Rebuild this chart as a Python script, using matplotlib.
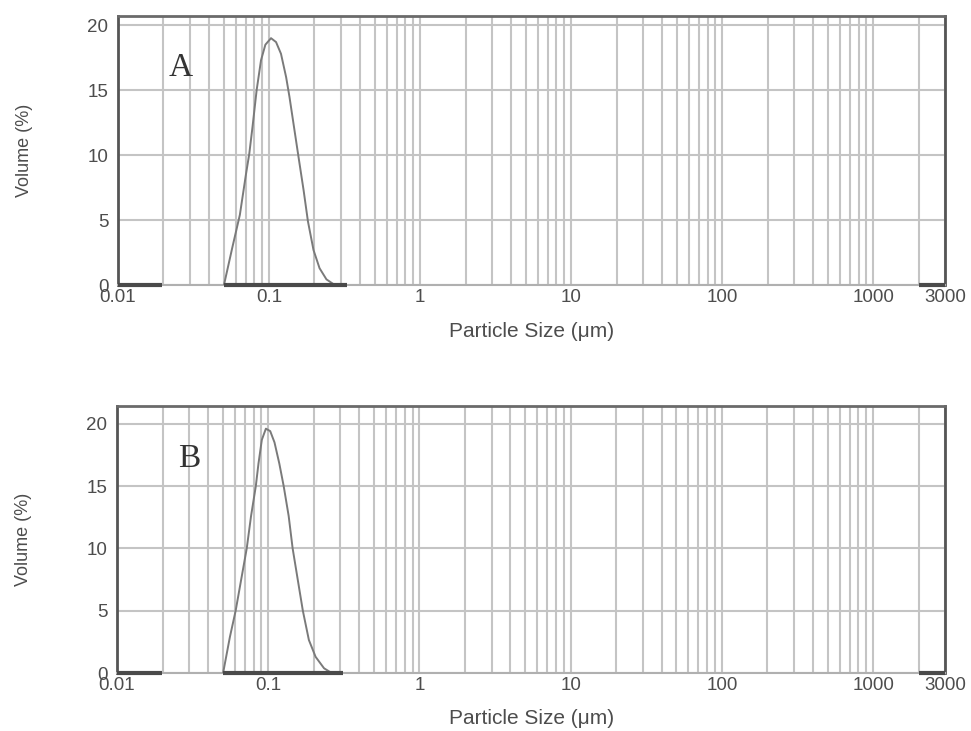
import matplotlib.pyplot as plt
from matplotlib.ticker import FixedLocator, LogLocator, NullFormatter

plt.rcParams['font.family'] = ['Liberation Sans', 'DejaVu Sans']

# particle size distributions
size_a = [0.0503, 0.0573, 0.0641, 0.0703, 0.0740, 0.0778, 0.0828, 0.0885, 0.0946, 0.1031,
          0.1113, 0.120, 0.1298, 0.1365, 0.1475, 0.158, 0.1694, 0.181, 0.197, 0.216,
          0.240, 0.273]
vol_a = [0.0, 2.95, 5.4, 8.5, 10.1, 12.2, 15.0, 17.3, 18.5, 19.0,
         18.7, 17.8, 16.0, 14.5, 11.9, 9.6, 7.3, 4.9, 2.7, 1.3,
         0.44, 0.0]

size_b = [0.0503, 0.0558, 0.0609, 0.0667, 0.0721, 0.0770, 0.0828, 0.0862, 0.0907, 0.0965,
          0.1031, 0.110, 0.1184, 0.1265, 0.1365, 0.145, 0.1567, 0.1694, 0.1857, 0.2057,
          0.234, 0.259]
vol_b = [0.0, 2.9, 5.0, 7.7, 10.0, 12.6, 15.0, 16.8, 18.7, 19.6,
         19.4, 18.5, 16.8, 15.0, 12.6, 10.0, 7.5, 5.0, 2.65, 1.3,
         0.38, 0.05]

# ranges where the zero line is drawn heavy
zero_a_start = [0.01, 0.0503, 2000]
zero_a_end = [0.0196, 0.326, 3000]
zero_b_start = [0.01, 0.0503, 2000]
zero_b_end = [0.0198, 0.31, 3000]

x_ticks = [0.01, 0.1, 1, 10, 100, 1000, 3000]
x_labels = ['0.01', '0.1', '1', '10', '100', '1000', '3000']
y_ticks = [0, 5, 10, 15, 20]

panels = [
    ('A', size_a, vol_a, zero_a_start, zero_a_end, 20.7, [0.1215, 0.610, 0.852, 0.368], (0.026, 16.7)),
    ('B', size_b, vol_b, zero_b_start, zero_b_end, 21.4, [0.1205, 0.0793, 0.853, 0.365], (0.030, 17.2)),
]

fig = plt.figure(figsize=(9.71, 7.31), dpi=100)
txt = '#4d4d4d'
grid_c = '#c4c4c4'

for name, xs, ys, z0, z1, ytop, rect, lab_pos in panels:
    ax = fig.add_axes(rect)
    ax.set_xscale('log')
    ax.set_xlim(0.01, 3000)
    ax.set_ylim(0, ytop)

    ax.xaxis.set_major_locator(FixedLocator(x_ticks))
    ax.set_xticklabels(x_labels)
    ax.xaxis.set_minor_locator(LogLocator(base=10, subs=range(2, 10), numticks=20))
    ax.xaxis.set_minor_formatter(NullFormatter())
    ax.set_yticks(y_ticks)

    ax.grid(True, which='both', axis='x', color=grid_c, lw=1.5)
    ax.grid(True, which='major', axis='y', color=grid_c, lw=1.5)
    ax.set_axisbelow(True)

    ax.tick_params(which='both', length=0, labelsize=13.5, labelcolor=txt)
    ax.tick_params(axis='x', pad=3)
    ax.tick_params(axis='y', pad=7)

    for side in ['left', 'right', 'top']:
        ax.spines[side].set_color('#555555')
        ax.spines[side].set_linewidth(2)
    ax.spines['top'].set_color('#6a6a6a')
    ax.spines['bottom'].set_color('#b0b0b0')
    ax.spines['bottom'].set_linewidth(1.5)

    ax.plot(xs, ys, color='#7a7a7a', lw=1.4, zorder=3)
    ax.hlines([0] * len(z0), z0, z1, color='#4a4a4a', lw=3, zorder=4, clip_on=False)

    ax.text(lab_pos[0], lab_pos[1], name, fontsize=24, family='Liberation Serif',
            color='#333333', ha='center', va='center')

    ax.set_xlabel('Particle Size (μm)', fontsize=15, color=txt, labelpad=11)
    ax.set_ylabel('Volume (%)', fontsize=13, color=txt, labelpad=39)

fig.savefig('out.png', dpi=100, facecolor='white')
